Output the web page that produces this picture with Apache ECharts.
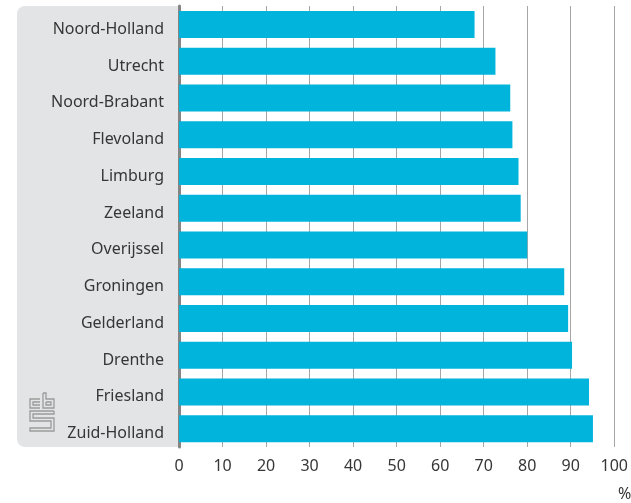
<!DOCTYPE html>
<html>
<head>
<meta charset="utf-8">
<script src="https://cdn.jsdelivr.net/npm/echarts@6/dist/echarts.min.js"></script>
<style>
  html, body { margin: 0; padding: 0; background: #fff; }
  #chart { width: 631px; height: 503px; }
</style>
</head>
<body>
<div id="chart"></div>
<script>
'use strict';

// --- data
var provinces = ['Noord-Holland', 'Utrecht', 'Noord-Brabant', 'Flevoland', 'Limburg', 'Zeeland',
  'Overijssel', 'Groningen', 'Gelderland', 'Drenthe', 'Friesland', 'Zuid-Holland'];
var values = [67.9, 72.7, 76.1, 76.6, 78.0, 78.5, 80.0, 88.5, 89.4, 90.3, 94.2, 95.1];
var xTicks = [0, 10, 20, 30, 40, 50, 60, 70, 80, 90, 100];

var font = '"Noto Sans", sans-serif';
var textColor = '#363636';
var logoColor = '#9a9a9a';

var myChart = echarts.init(document.getElementById('chart'));

// cbs logo, rough outline
function logoLine(points) {
  return {
    type: 'polyline',
    silent: true,
    shape: { points: points },
    style: { stroke: logoColor, lineWidth: 1.3, fill: null }
  };
}

var option = {
  animation: false,
  backgroundColor: '#ffffff',
  grid: {
    left: 179,
    right: 16,
    top: 6,
    bottom: 56
  },
  xAxis: {
    type: 'value',
    min: xTicks[0],
    max: xTicks[xTicks.length - 1],
    interval: 10,
    axisLine: { show: false },
    axisTick: { show: false },
    axisLabel: {
      color: textColor,
      fontFamily: font,
      fontSize: 16,
      margin: 11
    },
    splitLine: {
      show: true,
      lineStyle: { color: '#a6a6a6', width: 1 }
    }
  },
  yAxis: {
    type: 'category',
    data: provinces,
    inverse: true,
    axisLine: {
      show: true,
      lineStyle: { color: '#858585', width: 3 }
    },
    axisTick: { show: false },
    axisLabel: {
      color: textColor,
      fontFamily: font,
      fontSize: 16,
      margin: 15,
      verticalAlign: 'top',
      padding: [-3, 0, 0, 0]
    },
    splitLine: { show: false }
  },
  series: [{
    type: 'bar',
    data: values,
    barWidth: 27,
    itemStyle: { color: '#00b4dc' },
    z: 3
  }],
  graphic: [
    {
      type: 'rect',
      silent: true,
      z: -10,
      shape: { x: 17, y: 6, width: 162, height: 441, r: [8, 0, 0, 8] },
      style: { fill: '#e3e4e6' }
    },
    {
      type: 'group',
      z: -5,
      children: [
        logoLine([[40, 399], [30, 399], [30, 408], [40, 408]]),
        logoLine([[40, 402], [33, 402], [33, 405], [40, 405]]),
        logoLine([[43, 393], [43, 408], [54, 408], [54, 399], [46, 399], [46, 393], [43, 393]]),
        logoLine([[46, 402], [51, 402], [51, 405], [46, 405], [46, 402]]),
        logoLine([[54, 411], [30, 411], [30, 421], [51, 421], [51, 428], [30, 428], [30, 431], [54, 431], [54, 418], [33, 418], [33, 414], [54, 414], [54, 411]])
      ]
    },
    {
      type: 'text',
      left: 618,
      top: 486,
      style: {
        text: '%',
        fill: textColor,
        font: '16px ' + font
      }
    }
  ]
};

myChart.setOption(option);
</script>
</body>
</html>
